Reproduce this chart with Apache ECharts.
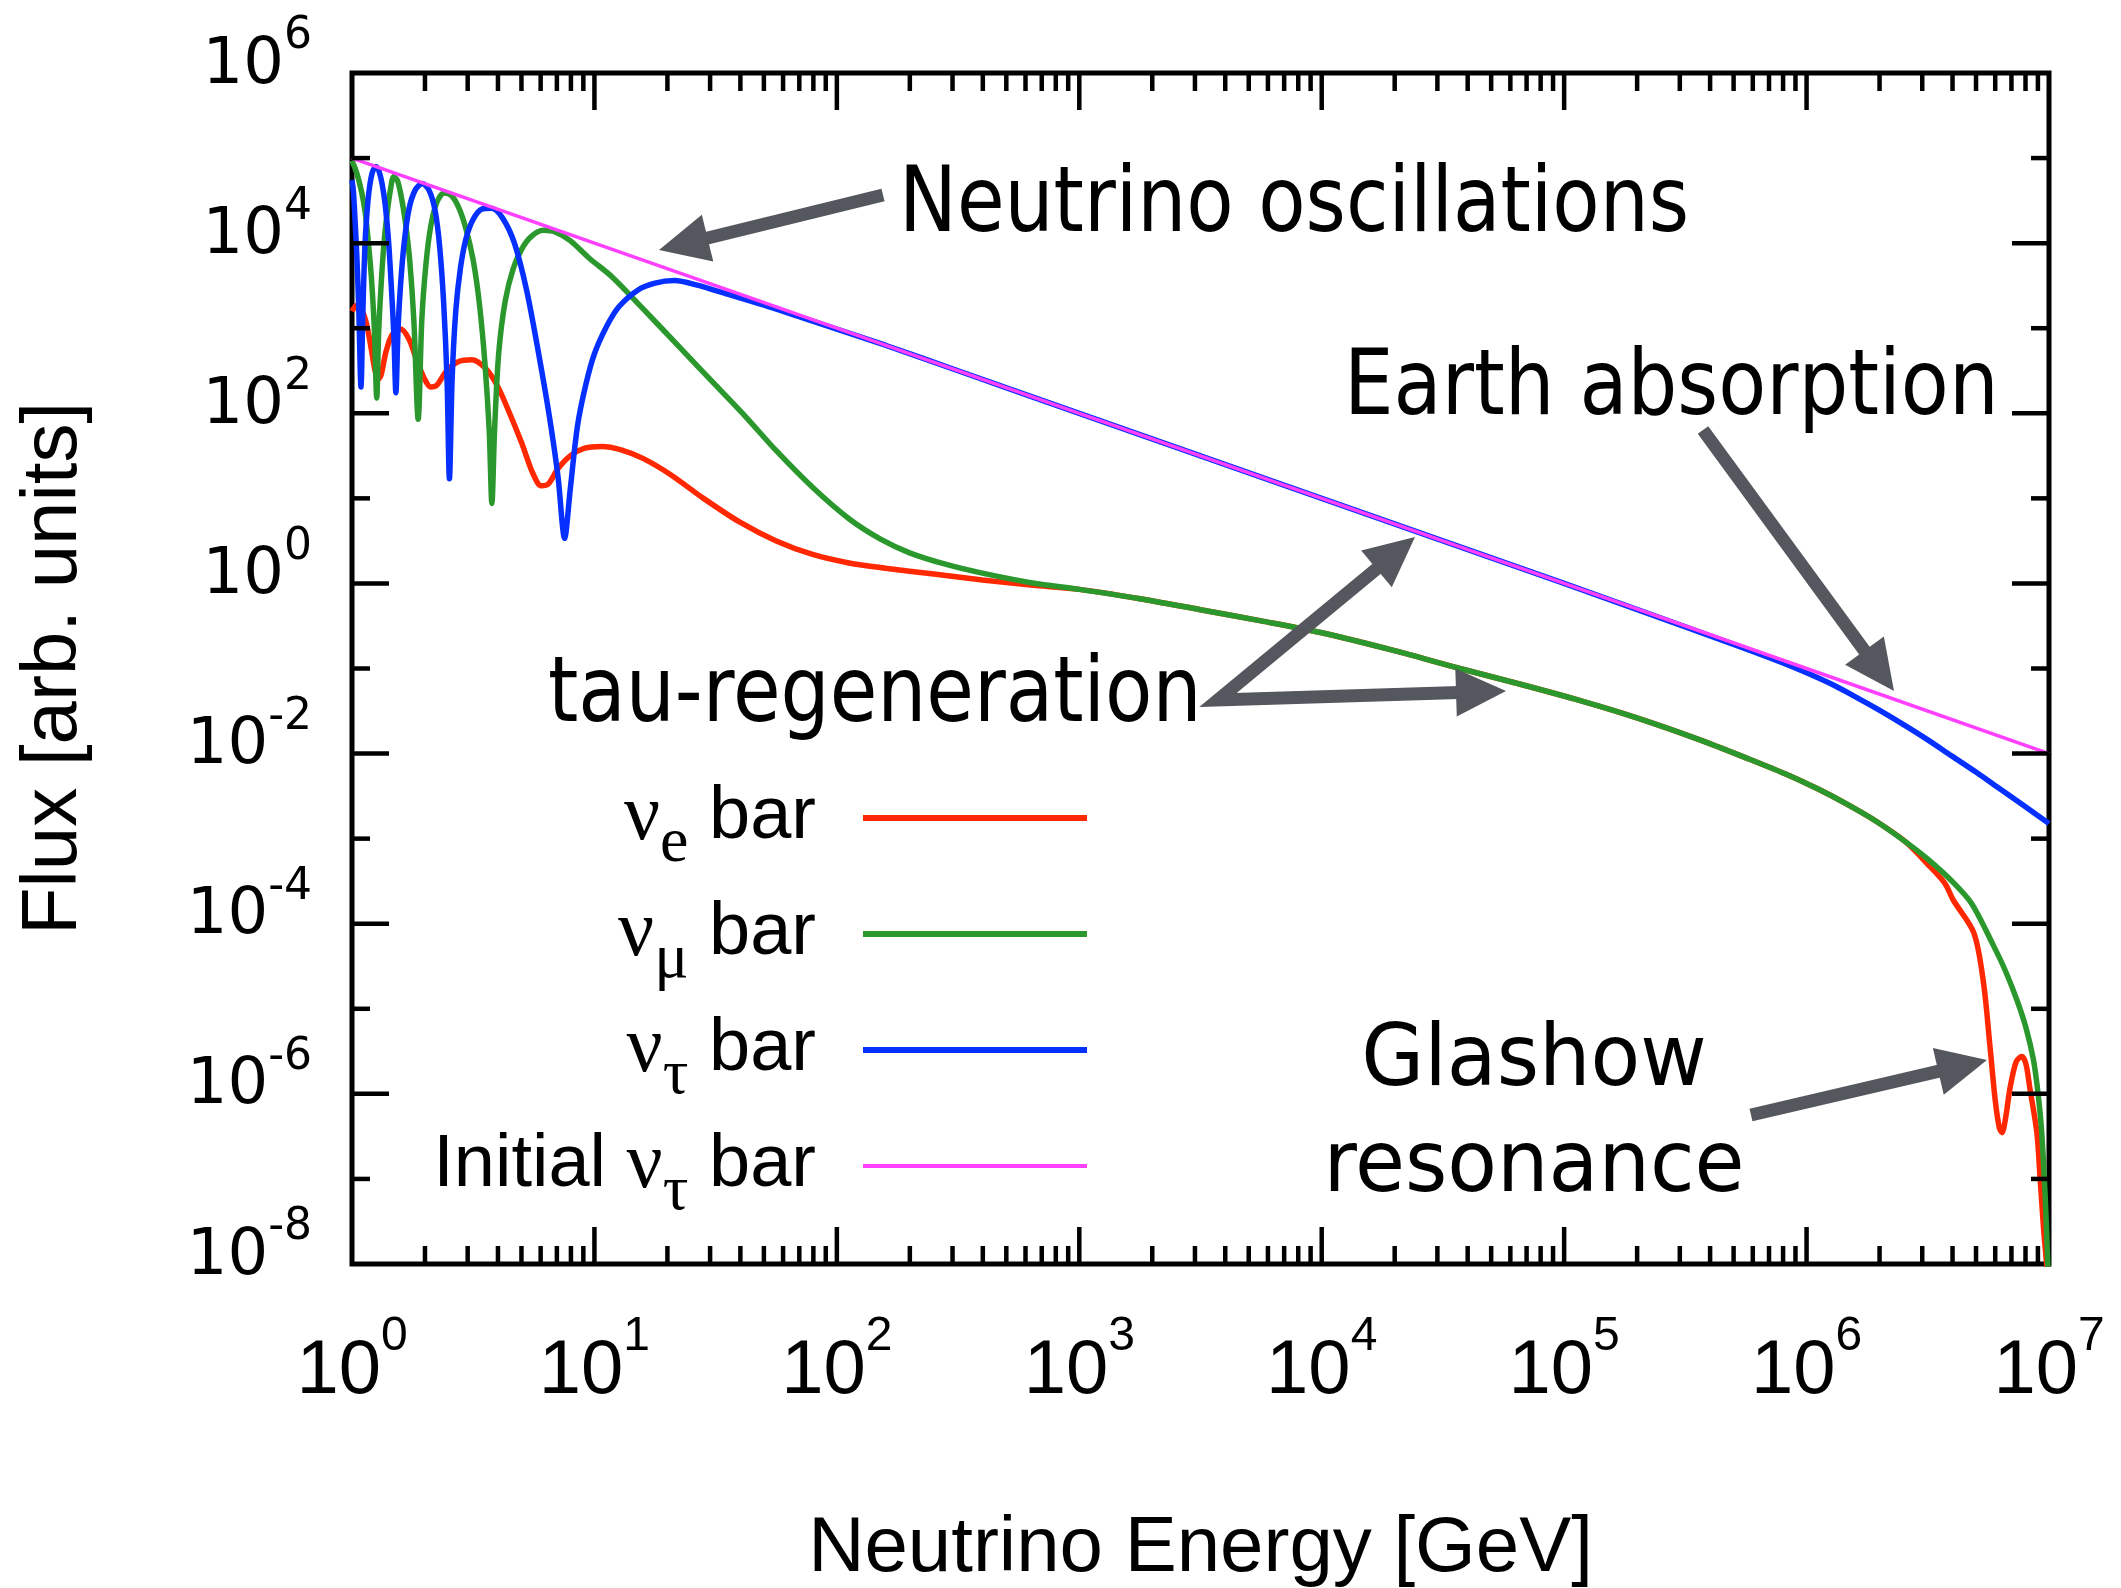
<!DOCTYPE html>
<html>
<head>
<meta charset="utf-8">
<title>Neutrino flux after Earth crossing</title>
<script src="https://cdn.jsdelivr.net/npm/echarts@6/dist/echarts.min.js"></script>
<style>
html, body { margin: 0; padding: 0; background: #ffffff; }
#chart { width: 2121px; height: 1588px; }
</style>
</head>
<body>
<div id="chart"></div>
<script>
// ---------------- data ----------------
const energyTickValues = [1, 10, 100, 1000, 1e4, 1e5, 1e6, 1e7];
const fluxTickValues = [1e-8, 1e-6, 1e-4, 1e-2, 1, 1e2, 1e4, 1e6];
const seriesNames = ['νe bar', 'νμ bar', 'ντ bar', 'Initial ντ bar'];
const seriesColors = ['#ff2800', '#2b982d', '#0530ff', '#ff40ff'];

// anti electron neutrino
const nuE_energy = [1, 1.047, 1.096, 1.148, 1.202, 1.245, 1.282, 1.318, 1.380, 1.462,
  1.585, 1.718, 1.862, 1.995, 2.113, 2.239, 2.455, 2.754, 3.119, 3.548,
  3.981, 4.467, 5.012, 5.559, 6.026, 6.457, 7.079, 7.943, 9.120, 10.72,
  12.88, 15.85, 20.56, 28.18, 39.81, 56.23, 79.43, 112.2, 158.5, 251.2,
  398.1, 631, 1000, 1778, 3162, 5623, 1e4, 19950, 37150, 63100,
  117500, 199500, 363100, 562300, 851100, 1.122e6, 1.479e6, 1.95e6, 2.57e6, 3.162e6,
  3.715e6, 4.027e6, 4.898e6, 5.37e6, 5.715e6, 5.998e6, 6.237e6, 6.397e6, 6.607e6, 6.918e6,
  7.328e6, 7.727e6, 8.035e6, 8.356e6, 8.913e6, 9.183e6, 9.506e6, 9.772e6, 1e7];
const nuE_flux = [1585, 1862, 1660, 1122, 562, 316, 251, 282, 525, 832,
  977, 741, 398, 251, 204, 214, 316, 407, 427, 339,
  209, 100, 44.7, 20, 14.1, 14.8, 22.4, 31.6, 38.9, 40.7,
  37.2, 29.5, 19.1, 10, 5.25, 3.16, 2.19, 1.74, 1.51, 1.29,
  1.10, 0.955, 0.851, 0.661, 0.49, 0.363, 0.263, 0.162, 0.1, 0.0676,
  0.0417, 0.0263, 0.0145, 0.00891, 0.0055, 0.0038, 0.00251, 0.00158, 9.1e-4, 5.0e-4,
  3.0e-4, 1.9e-4, 7.8e-5, 2.0e-5, 3.5e-6, 8.5e-7, 4.0e-7, 3.5e-7, 5.0e-7, 1.2e-6,
  2.4e-6, 2.75e-6, 2.24e-6, 1.12e-6, 3.5e-7, 1.05e-7, 2.5e-8, 1e-8, 3.2e-9];

// anti muon neutrino
const nuMu_energy = [1, 1.047, 1.096, 1.135, 1.169, 1.202, 1.236, 1.265, 1.288, 1.318,
  1.355, 1.396, 1.439, 1.486, 1.538, 1.596, 1.660, 1.730, 1.799, 1.875,
  1.941, 2.018, 2.113, 2.239, 2.399, 2.570, 2.754, 2.951, 3.162, 3.350,
  3.532, 3.681, 3.776, 3.873, 4.027, 4.285, 4.624, 5.012, 5.495, 6.166,
  6.918, 7.943, 9.550, 11.86, 15.85, 22.39, 31.62, 42.36, 56.23, 79.98,
  112.2, 151.4, 199.5, 285.1, 398.1, 631, 1000, 1778, 3162, 5623,
  1e4, 19950, 37150, 63100, 117500, 199500, 363100, 562300, 851100, 1.122e6,
  1.479e6, 1.95e6, 2.57e6, 3.162e6, 3.981e6, 4.786e6, 5.888e6, 6.607e6, 7.379e6, 8.035e6,
  8.63e6, 9.016e6, 9.333e6, 9.66e6, 9.886e6, 1e7];
const nuMu_flux = [93300, 66070, 39810, 22390, 10000, 3981, 1000, 151, 891, 3162,
  10000, 22390, 41690, 60260, 54950, 35480, 17780, 6310, 1259, 85,
  1259, 5623, 15850, 30200, 38900, 36310, 26300, 14790, 6310, 1995,
  398, 63, 8.7, 63, 501, 2089, 5012, 8511, 12020, 14130,
  13490, 10720, 6607, 3981, 1698, 603, 214, 89.1, 36.3, 13.2,
  5.75, 3.31, 2.29, 1.66, 1.32, 1.02, 0.851, 0.661, 0.49, 0.363,
  0.263, 0.162, 0.1, 0.0676, 0.0417, 0.0263, 0.0145, 0.00891, 0.0055, 0.0038,
  0.00251, 0.00158, 9.1e-4, 5.75e-4, 3.16e-4, 1.74e-4, 5.6e-5, 2.8e-5, 1.26e-5, 6.0e-6,
  2.5e-6, 1.0e-6, 3.5e-7, 5.6e-8, 1.0e-8, 3.2e-9];

// anti tau neutrino after crossing
const nuTau_energy = [1, 1.014, 1.028, 1.047, 1.067, 1.089, 1.109, 1.130, 1.153, 1.180,
  1.216, 1.256, 1.294, 1.334, 1.371, 1.413, 1.455, 1.489, 1.517, 1.549,
  1.585, 1.641, 1.718, 1.820, 1.950, 2.080, 2.203, 2.301, 2.388, 2.466,
  2.523, 2.588, 2.679, 2.799, 2.951, 3.162, 3.428, 3.758, 4.169, 4.677,
  5.248, 5.888, 6.531, 7.079, 7.534, 7.943, 8.511, 9.204, 10, 11.22,
  12.59, 15.14, 17.78, 21.38, 26.3, 35.48, 50.12, 70.79, 100, 158.5,
  316.2, 1000, 1e4, 1e5, 3.162e5, 5.623e5, 7.943e5, 1e6, 1.259e6, 1.585e6,
  1.995e6, 2.512e6, 3.162e6, 3.981e6, 5.012e6, 6.31e6, 7.943e6, 1e7];
const nuTau_flux = [54950, 39800, 19950, 7080, 1585, 204, 1585, 8910, 22910, 44670,
  69180, 79430, 69180, 47860, 28180, 11220, 2884, 794, 174, 1000,
  3162, 10000, 25120, 41690, 50120, 41690, 23990, 8913, 1995, 251,
  17, 251, 1585, 5012, 11220, 19050, 25120, 25700, 19950, 10000,
  2818, 501, 89, 17.8, 3.39, 12.6, 70.8, 214, 501, 1047,
  1778, 2818, 3388, 3631, 3236, 2512, 1862, 1349, 977, 631,
  316, 100, 10, 1, 0.309, 0.17, 0.117, 0.0891, 0.0661, 0.0468,
  0.0324, 0.0219, 0.0145, 0.00933, 0.00603, 0.0038, 0.0024, 0.00151];

// initial anti tau neutrino flux
const initial_energy = [1, 10, 100, 1000, 1e4, 1e5, 1e6, 1e7];
const initial_flux = [1e5, 1e4, 1e3, 100, 10, 1, 0.1, 0.01];

// ---------------- chart ----------------
const chart = echarts.init(document.getElementById('chart'), null, { renderer: 'canvas' });

function zip(xs, ys) { return xs.map((x, i) => [x, ys[i]]); }

const legendLabels = {
  'νe bar': '{nu|ν}{sub|e}{t| bar}',
  'νμ bar': '{nu|ν}{sub|μ}{t| bar}',
  'ντ bar': '{nu|ν}{sub|τ}{t| bar}',
  'Initial ντ bar': '{t|Initial }{nu|ν}{sub|τ}{t| bar}'
};

function expLabel(v) {
  const e = Math.round(Math.log10(v));
  return '{b|10}{s|' + e + '}';
}

const SANS = "'Liberation Sans', Arial, sans-serif";
const NARROW = "'Liberation Sans Narrow', 'Liberation Sans', Arial, sans-serif";
const WIDE = "'DejaVu Sans', 'Liberation Sans', sans-serif";
const SERIF = "'Liberation Serif', 'DejaVu Serif', serif";

function lineSeries(idx, xs, ys, width, z, smooth) {
  return {
    name: seriesNames[idx],
    type: 'line',
    data: zip(xs, ys),
    showSymbol: false,
    symbol: 'none',
    smooth: smooth,
    clip: true,
    z: z,
    lineStyle: { color: seriesColors[idx], width: width },
    itemStyle: { color: seriesColors[idx] },
    emphasis: { disabled: true }
  };
}

const option = {
  animation: false,
  backgroundColor: '#ffffff',
  grid: {
    left: 352, top: 73, right: 2121 - 2049, bottom: 1588 - 1264,
    containLabel: false, outerBoundsMode: 'none',
    show: true, borderColor: '#000000', borderWidth: 5, backgroundColor: 'transparent'
  },
  xAxis: {
    type: 'log', logBase: 10, min: 1, max: 1e7,
    axisLine: { show: false }, axisTick: { show: false }, splitLine: { show: false },
    minorTick: { show: false }, minorSplitLine: { show: false },
    axisLabel: {
      margin: 49, color: '#000', formatter: expLabel,
      rich: {
        b: { fontFamily: NARROW, fontSize: 76, color: '#000' },
        s: { fontFamily: NARROW, fontSize: 48, color: '#000', padding: [0, 0, 70, 0] }
      }
    },
    name: 'Neutrino Energy [GeV]', nameLocation: 'middle', nameGap: 246,
    nameTextStyle: { fontFamily: SANS, fontSize: 78, color: '#000' }
  },
  yAxis: {
    type: 'log', logBase: 10, min: 1e-8, max: 1e6, interval: 2,
    axisLine: { show: false }, axisTick: { show: false }, splitLine: { show: false },
    minorTick: { show: false }, minorSplitLine: { show: false },
    axisLabel: {
      margin: 40, color: '#000', formatter: expLabel, padding: [0, 0, 14, 0],
      rich: {
        b: { fontFamily: WIDE, fontSize: 64, color: '#000' },
        s: { fontFamily: WIDE, fontSize: 44, color: '#000', padding: [0, 0, 58, 0] }
      }
    },
    name: 'Flux [arb. units]', nameLocation: 'middle', nameGap: 259,
    nameTextStyle: { fontFamily: SANS, fontSize: 78, color: '#000' }
  },
  legend: {
    show: true, orient: 'vertical', align: 'right',
    right: 2121 - 1087, top: 760, padding: 0,
    itemWidth: 224, itemHeight: 6, itemGap: 0,
    selectedMode: false, icon: 'rect',
    data: [
      { name: seriesNames[0] },
      { name: seriesNames[1] },
      { name: seriesNames[2] },
      { name: seriesNames[3], icon: 'path://M0 0H112V2H0Z' }
    ],
    formatter: function (name) { return legendLabels[name]; },
    textStyle: {
      color: '#000', fontFamily: SANS, fontSize: 74, padding: [0, 42, 0, 0],
      rich: {
        t: { fontFamily: SANS, fontSize: 74, lineHeight: 100, color: '#000' },
        nu: { fontFamily: SERIF, fontSize: 80, lineHeight: 100, color: '#000' },
        sub: { fontFamily: SERIF, fontSize: 64, lineHeight: 100, color: '#000', padding: [52, 0, 0, 0] }
      }
    }
  },
  series: [
    lineSeries(0, nuE_energy, nuE_flux, 5.5, 3, 0.3),
    lineSeries(1, nuMu_energy, nuMu_flux, 5.5, 4, 0.3),
    lineSeries(2, nuTau_energy, nuTau_flux, 5.5, 5, 0.3),
    lineSeries(3, initial_energy, initial_flux, 3.5, 6, false)
  ]
};

chart.setOption(option);

// ---------------- ticks, annotations, arrows ----------------
const ARROW = '#54575d';
function seg(x1, y1, x2, y2, w) {
  return { type: 'line', silent: true, z: 50, shape: { x1: x1, y1: y1, x2: x2, y2: y2 },
    style: { stroke: '#000', lineWidth: w } };
}
function buildTicks() {
  const X = v => chart.convertToPixel({ xAxisIndex: 0 }, v);
  const Y = v => chart.convertToPixel({ yAxisIndex: 0 }, v);
  const L = X(1), R = X(1e7), T = Y(1e6), B = Y(1e-8);
  const out = [];
  const LONG = 37, SHORT = 18, W = 4.5;
  for (let k = 0; k < 7; k++) {
    const base = Math.pow(10, k);
    if (k > 0) {
      const x = X(base);
      out.push(seg(x, B, x, B - LONG, W), seg(x, T, x, T + LONG, W));
    }
    for (let m = 2; m <= 9; m++) {
      const x = X(m * base);
      out.push(seg(x, B, x, B - SHORT, W), seg(x, T, x, T + SHORT, W));
    }
  }
  for (let e = -7; e <= 5; e++) {
    const y = Y(Math.pow(10, e));
    const len = (e % 2 === 0) ? LONG : SHORT;
    out.push(seg(L, y, L + len, y, W), seg(R, y, R - len, y, W));
  }
  return out;
}
function arrowParts(tail, tip, headLen, headHalf) {
  const dx = tip[0] - tail[0], dy = tip[1] - tail[1];
  const len = Math.hypot(dx, dy);
  const ux = dx / len, uy = dy / len, px = -uy, py = ux;
  const bx = tip[0] - ux * headLen, by = tip[1] - uy * headLen;
  return {
    base: [bx + ux * 3, by + uy * 3],
    head: { type: 'polygon', silent: true, z: 60,
      shape: { points: [tip, [bx + px * headHalf, by + py * headHalf], [bx - px * headHalf, by - py * headHalf]] },
      style: { fill: ARROW } }
  };
}
function arrow(tail, tip) {
  const a = arrowParts(tail, tip, 50, 24);
  return [
    { type: 'polyline', silent: true, z: 60, shape: { points: [tail, a.base] },
      style: { stroke: ARROW, lineWidth: 13, fill: null, lineCap: 'butt' } },
    a.head
  ];
}
function forkArrow(origin, tip1, tip2) {
  const a1 = arrowParts(origin, tip1, 50, 24);
  const a2 = arrowParts(origin, tip2, 50, 24);
  return [
    { type: 'polyline', silent: true, z: 60, shape: { points: [a1.base, origin, a2.base] },
      style: { stroke: ARROW, lineWidth: 13, fill: null, lineCap: 'butt', lineJoin: 'miter', miterLimit: 10 } },
    a1.head, a2.head
  ];
}
function label(text, x, y, size, sx, align) {
  return { type: 'text', silent: true, z: 70, x: x, y: y, scaleX: sx,
    style: { text: text, fontFamily: "'DejaVu Sans', sans-serif", fontSize: size, fill: '#000',
      align: align, verticalAlign: 'middle' } };
}
const annotations = [
  label('Neutrino oscillations', 899, 208, 90, 0.86, 'left'),
  label('Earth absorption', 1344, 391, 90, 0.872, 'left'),
  label('tau-regeneration', 548, 698, 90, 0.86, 'left'),
  label('Glashow', 1534, 1063, 86, 0.945, 'center'),
  label('resonance', 1534, 1169, 86, 0.945, 'center')
].concat(
  arrow([883, 195], [659, 250]),
  arrow([1703, 430], [1894, 691]),
  arrow([1751, 1115], [1987, 1060]),
  forkArrow([1218, 700], [1415, 537], [1506, 691])
);

chart.setOption({ graphic: { elements: buildTicks().concat(annotations) } });
</script>
</body>
</html>
